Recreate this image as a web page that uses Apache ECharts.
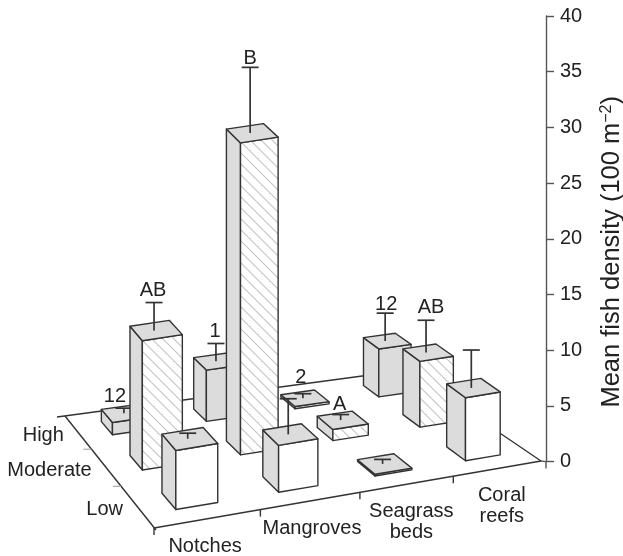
<!DOCTYPE html>
<html><head><meta charset="utf-8">
<style>html,body{margin:0;padding:0;background:#fff}#c{width:623px;height:556px}</style>
<script src="https://cdn.jsdelivr.net/npm/echarts@6/dist/echarts.min.js"></script>
</head><body><div id="c"></div>
<script>
// ---- data ----
const categories = ['Notches', 'Mangroves', 'Seagrass\nbeds', 'Coral\nreefs'];
const rows = ['Low', 'Moderate', 'High'];
const lowValues = [5.3, 4.2, 0.15, 5.65];
const moderateValues = [11.6, 28, 1.0, 5.9];
const highValues = [1.1, 4.6, 0.2, 4.3];
const lowErrors = [0.5, 3.2, 0.4, 3.4];
const moderateErrors = [2.5, 5.9, 0.5, 2.9];
const highErrors = [0.45, 1.6, 0.4, 2.5];
const lowLetters = ['', '', '', ''];
const moderateLetters = ['AB', 'B', 'A', 'AB'];
const highLetters = ['12', '1', '2', '12'];
const valueTicks = {min: 0, max: 40, interval: 5};

// ---- layout ----
const FLOOR = {fl: [154, 528], fr: [541, 461], br: [407, 370], bl: [65, 416]};
const AXIS_X = 546;
const ERROR_DX = -2;
const letterShift = [
  [[0, 0], [0, 0], [0, 0], [0, 0]],
  [[-1, 1], [0, 4], [-1, 3], [5, 0]],
  [[-9, 1], [-1, 1], [-2, -3], [1, 4]]
];
const categoryLabelDx = [-3, 1, 4, 4];
const G = (function () {
  const {fl, fr, br, bl} = FLOOR;
  const dx1 = fr[0] - br[0], dx2 = bl[0] - br[0], sx = fl[0] - fr[0] + br[0] - bl[0];
  const dy1 = fr[1] - br[1], dy2 = bl[1] - br[1], sy = fl[1] - fr[1] + br[1] - bl[1];
  const det = dx1 * dy2 - dx2 * dy1;
  const g = (sx * dy2 - dx2 * sy) / det, h = (dx1 * sy - sx * dy1) / det;
  return {g, h,
    a: fr[0] - fl[0] + g * fr[0], b: bl[0] - fl[0] + h * bl[0], c: fl[0],
    d: fr[1] - fl[1] + g * fr[1], e: bl[1] - fl[1] + h * bl[1], f: fl[1]};
})();
// col in 0..4 along the front edge, row in 0..3 from front to back
function floorPt(col, row) {
  const u = col / categories.length, v = row / rows.length;
  const w = 1 + G.g * u + G.h * v;
  return [(G.a * u + G.b * v + G.c) / w, (G.d * u + G.e * v + G.f) / w];
}

// ---- styles ----
const INK = '#333', TEXT = '#222', SIDE = '#dcdcdc', AXIS = '#555', FONT = '"Liberation Sans", Arial, sans-serif';
const TILE = 11;
const hatchTile = document.createElement('canvas');
hatchTile.width = hatchTile.height = TILE;
(function () {
  const ctx = hatchTile.getContext('2d');
  ctx.fillStyle = '#fff'; ctx.fillRect(0, 0, TILE, TILE);
  ctx.strokeStyle = '#c4c4c4'; ctx.lineWidth = 1.1;
  [[-TILE, -TILE, TILE, TILE], [-TILE, 0, TILE, 2 * TILE], [0, -TILE, 2 * TILE, TILE]].forEach(function (l) {
    ctx.beginPath(); ctx.moveTo(l[0], l[1]); ctx.lineTo(l[2], l[3]); ctx.stroke();
  });
})();
const fronts = ['#fff', {image: hatchTile, repeat: 'repeat'}, SIDE];

const valuesByRow = [lowValues, moderateValues, highValues];
const errorsByRow = [lowErrors, moderateErrors, highErrors];
const lettersByRow = [lowLetters, moderateLetters, highLetters];
const barData = [];
for (let r = rows.length - 1; r >= 0; r--) {
  for (let c = 0; c < categories.length; c++) {
    barData.push([c, r, valuesByRow[r][c], errorsByRow[r][c]]);
  }
}
const HALF = 0.2;

function poly(points, fill) {
  return {type: 'polygon', shape: {points}, style: {fill, stroke: INK, lineWidth: 1.4, lineJoin: 'round'}};
}
function seg(a, b, lw, col) {
  return {type: 'line', shape: {x1: a[0], y1: a[1], x2: b[0], y2: b[1]},
    style: {stroke: col || INK, lineWidth: lw || 1.4, fill: null}};
}
function barPoint(api) {
  const c = api.value(0), r = api.value(1);
  const unit = api.coord([0, 0])[1] - api.coord([0, 1])[1];
  return function (du, dv, h) {
    const q = floorPt(c + 0.5 + du, r + 0.5 + dv);
    return [q[0], q[1] - h * unit];
  };
}
function renderBar(params, api) {
  const r = api.value(1), h = api.value(2), err = api.value(3);
  const p = barPoint(api);
  const fl = p(-HALF, -HALF, 0), fr = p(HALF, -HALF, 0), bl = p(-HALF, HALF, 0);
  const tfl = p(-HALF, -HALF, h), tfr = p(HALF, -HALF, h), tbl = p(-HALF, HALF, h), tbr = p(HALF, HALF, h);
  const top = p(0, 0, h), tip = p(0, 0, h + err);
  top[0] += ERROR_DX; tip[0] += ERROR_DX;
  return {type: 'group', children: [
    poly([bl, fl, tfl, tbl], SIDE),
    poly([fl, fr, tfr, tfl], fronts[r]),
    poly([tfl, tfr, tbr, tbl], SIDE),
    seg(top, tip, 1.7),
    seg([tip[0] - 8.5, tip[1]], [tip[0] + 8.5, tip[1]], 1.7)
  ]};
}
function renderLetter(params, api) {
  const c = api.value(0), r = api.value(1), h = api.value(2), err = api.value(3);
  const letter = lettersByRow[r][c];
  if (!letter) return null;
  const tip = barPoint(api)(0, 0, h + err), s = letterShift[r][c];
  return {type: 'text', style: {text: letter, x: tip[0] + ERROR_DX + s[0], y: tip[1] - 3 + s[1], align: 'center', verticalAlign: 'bottom',
    font: '20px ' + FONT, fill: TEXT}};
}
function renderFloor(params, api) {
  const nc = categories.length, nr = rows.length;
  const FL = floorPt(0, 0), FR = floorPt(nc, 0), BR = floorPt(nc, nr), BL = floorPt(0, nr);
  const kids = [
    seg(FL, FR), seg(FR, BR), seg([BL[0] - 8, BL[1] + 1], BR), seg(BL, [FL[0] + 2, FL[1] + 2]),
    seg(FL, [FL[0], FL[1] + 7])
  ];
  for (let i = 1; i < nc; i++) {
    const q = floorPt(i, 0);
    kids.push(seg(q, [q[0], q[1] + 7]));
  }
  for (let j = 1; j < nr; j++) {
    const q = floorPt(0, j);
    kids.push(seg(q, [q[0] - 8, q[1]], 1.2, '#aaa'));
  }
  const ax = api.coord([AXIS_X, 0]);
  kids.push(seg(ax, [ax[0], ax[1] + 7], 1.4, AXIS));
  kids.push(seg(FR, ax, 1.4, AXIS));
  categories.forEach(function (name, i) {
    const q = floorPt(i + 0.5, 0);
    kids.push({type: 'text', style: {text: name, x: q[0] + categoryLabelDx[i], y: q[1] + 17, align: 'center', verticalAlign: 'top',
      font: '20px ' + FONT, lineHeight: 21, fill: TEXT}});
  });
  rows.forEach(function (name, j) {
    const q = floorPt(0, j + 0.5);
    kids.push({type: 'text', style: {text: name, x: q[0] - 14, y: q[1] + 3, align: 'right', verticalAlign: 'middle',
      font: '20px ' + FONT, fill: TEXT}});
  });
  return {type: 'group', children: kids};
}

const chart = echarts.init(document.getElementById('c'), null, {renderer: 'canvas'});
chart.setOption({
  animation: false,
  backgroundColor: '#fff',
  grid: {left: 0, right: 623 - AXIS_X, top: 16, bottom: 94.4, outerBoundsMode: 'none'},
  xAxis: {type: 'value', min: 0, max: AXIS_X, show: false},
  yAxis: {
    type: 'value', position: 'right', min: valueTicks.min, max: valueTicks.max, interval: valueTicks.interval,
    splitLine: {show: false},
    axisLine: {show: true, onZero: false, lineStyle: {color: AXIS, width: 1.4}},
    axisTick: {show: true, length: 8, lineStyle: {color: AXIS, width: 1.4}},
    axisLabel: {fontFamily: 'Liberation Sans', fontSize: 20, color: TEXT, margin: 14},
    name: '{t|Mean fish density (100 m}{s|\u22122}{t|)}',
    nameLocation: 'middle', nameRotate: 90, nameGap: 53,
    nameTextStyle: {padding: [0, 26, 0, 0], rich: {
      t: {fontFamily: 'Liberation Sans', fontSize: 25.5, color: TEXT},
      s: {fontFamily: 'Liberation Sans', fontSize: 16, color: TEXT, verticalAlign: 'top', padding: [0, 0, 9, 0]}
    }}
  },
  series: [
    {type: 'custom', coordinateSystem: 'cartesian2d', clip: false, silent: true, data: [[0, 0]], renderItem: renderFloor, z: 1},
    {type: 'custom', coordinateSystem: 'cartesian2d', clip: false, silent: true, data: barData,
     encode: {x: 0, y: 2}, renderItem: renderBar, z: 2},
    {type: 'custom', coordinateSystem: 'cartesian2d', clip: false, silent: true, data: barData,
     encode: {x: 0, y: 2}, renderItem: renderLetter, z: 3}
  ]
});
</script></body></html>
